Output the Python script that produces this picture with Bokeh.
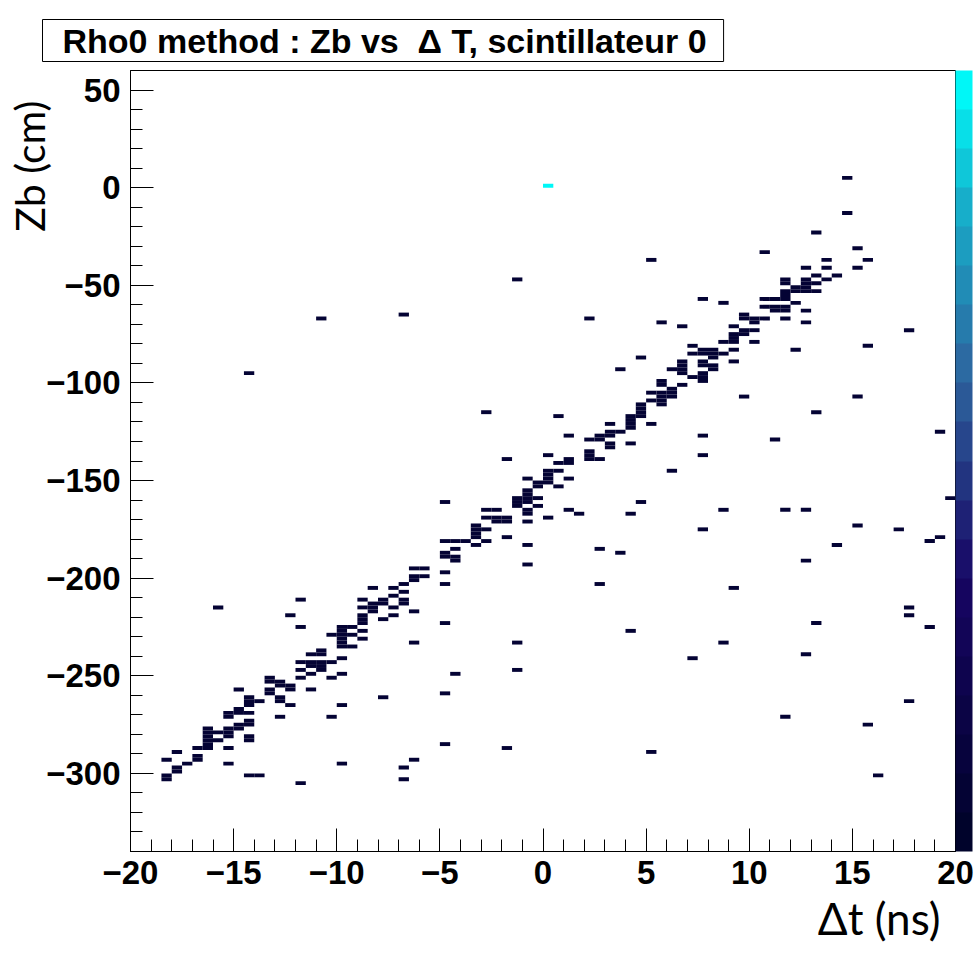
import numpy as np
from bokeh.plotting import figure
from bokeh.models import (ColumnDataSource, LinearColorMapper, ColorBar, Title,
                          FixedTicker, Range1d)
from bokeh.transform import transform
from bokeh.embed import file_html
from bokeh.resources import INLINE

# ---------------- data (bin centres of filled bins, bins 0.5 ns x 2 cm) ----------------
# hottest bin
hot_dt = [0.25]
hot_zb = [1]
hot_count = [20]

# bins with a single entry
dt_ns = [
    14.75, 14.75, 13.25, 15.25, 10.75, 13.75, 15.75, 5.25, 12.75,
    13.75, 15.25, 13.25, 14.25, 13.75, 11.75, 12.75, -1.25, 11.75, 12.75,
    13.25, 12.25, 12.75, 11.75, 12.25, 12.75, 13.25, 11.75, 7.75, 10.75,
    11.25, 11.75, 8.75, 12.25, 10.75, 11.25, 11.75, 11.25, 11.75, 12.75,
    9.75, -6.75, 9.75, 10.25, 10.75, 11.75, 2.25, -10.75, 10.25, 12.75,
    5.75, 6.75, 9.25, 9.75, 10.25, 17.75, 9.25, 9.75, 9.25, 8.75,
    9.25, 10.25, 7.25, 15.75, 7.75, 8.25, 9.25, 12.25, 7.25, 7.75,
    8.25, 8.75, 4.75, 8.25, 6.75, 7.75, 9.25, 6.75, 7.75, 8.25,
    3.75, 6.25, 6.75, 8.25, -14.25, 6.75, 7.75, 7.25, 7.75, 5.75,
    7.75, 5.75, 6.75, 6.25, 5.25, 5.75, 6.25, 5.75, 6.25, 9.75,
    15.25, 5.25, 5.75, 4.75, 5.75, 4.75, 4.75, -2.75, 13.25, 0.75,
    4.25, 4.75, 4.25, 3.25, 4.25, 5.25, 4.25, 3.25, 3.75, 19.25,
    1.25, 2.75, 3.25, 7.75, 2.25, 2.75, 11.25, 3.25, 4.25, 3.25,
    2.25, 0.25, 2.25, 7.75, -1.75, 1.25, 2.25, 2.75, 0.75, 1.25,
    0.25, 0.75, 6.25, 0.25, -0.75, 0.25, 1.25, -0.25, 0.25, -0.25,
    0.75, -0.75, -0.75, -1.25, -0.75, -0.25, 19.75, -4.75, -1.25, -0.75,
    4.75, -1.25, -0.25, -2.75, -2.25, -0.75, 1.25, 8.75, 11.75, 12.75,
    -0.75, 1.75, 4.25, -2.75, -2.25, -1.75, 0.25, -2.25, -1.75, -0.75,
    -3.25, 15.25, -3.25, -2.75, 7.75, 17.25, -3.25, -3.25, -1.75, 19.25,
    -4.75, -4.25, -3.75, -2.75, 18.75, -3.25, -0.75, 14.25, -4.25, 2.75,
    -4.75, 3.75, -4.75, -4.25, -4.25, 12.75, -0.75, -6.25, -5.75, -4.75,
    -6.25, -5.75, -6.25, -6.75, -4.75, 2.75, -8.25, -7.25, 9.25, -6.75,
    -7.25, -11.75, -8.75, -7.75, -6.75, -8.25, -7.75, -6.75, -15.75, -8.75,
    -8.25, -7.25, 17.75, -8.25, -6.25, -12.25, -8.75, -7.25, 17.75, -8.75,
    -7.75, -8.75, -4.75, 13.25, -11.75, -9.75, -9.25, 18.75, -9.75, -8.75,
    4.25, -10.25, -9.75, -9.25, -9.75, -8.75, -9.75, -6.25, -1.25, 8.75,
    -9.75, -9.25, -10.75, -11.25, -10.75, 12.75, -9.75, 7.25, -11.75, -11.25,
    -10.75, -10.25, -11.25, -10.75, -11.75, -10.75, -1.25, -11.25, -9.75, -4.25,
    -13.25, -11.75, -10.25, -13.25, -12.75, -12.75, -12.25, -14.75, -13.25, -12.25,
    -11.25, -13.25, -4.75, -14.25, -12.75, -7.75, -14.25, -13.75, -12.75, 17.75,
    -14.25, -12.25, -9.75, -14.75, -15.25, -14.75, -14.25, -15.25, -12.75, -10.25,
    11.75, -14.25, -14.75, -14.25, 15.75, -16.25, -15.25, -14.75, -16.25, -15.75,
    -15.25, -16.25, -15.25, -14.25, -16.25, -15.75, -14.25, -16.25, -4.75, -16.75,
    -16.25, -15.25, -1.75, -17.75, 5.25, -16.75, -18.25, -16.75, -6.25, -17.25,
    -15.25, -9.75, -17.75, -6.75, -17.75, -18.25, -14.25, -13.75, 16.25, -18.25,
    -6.75, -11.75,
]
zb_cm = [
    5, -13, -23, -31, -33, -37, -37, -37, -41,
    -41, -41, -45, -45, -47, -47, -47, -47, -49, -49,
    -49, -51, -51, -53, -53, -53, -53, -55, -57, -57,
    -57, -57, -59, -59, -61, -61, -61, -63, -63, -63,
    -65, -65, -67, -67, -67, -67, -67, -67, -69, -69,
    -69, -71, -71, -73, -73, -73, -75, -75, -77, -79,
    -79, -79, -81, -81, -83, -83, -83, -83, -85, -85,
    -85, -85, -87, -87, -89, -89, -89, -91, -91, -91,
    -93, -93, -93, -93, -95, -95, -95, -97, -97, -99,
    -99, -101, -101, -103, -105, -105, -105, -107, -107, -107,
    -107, -109, -109, -111, -111, -113, -115, -115, -115, -117,
    -117, -117, -119, -121, -121, -121, -123, -125, -125, -125,
    -127, -127, -127, -127, -129, -129, -129, -131, -131, -133,
    -135, -137, -137, -137, -139, -139, -139, -139, -141, -141,
    -145, -145, -145, -147, -149, -149, -149, -151, -151, -153,
    -153, -155, -157, -159, -159, -159, -159, -161, -161, -161,
    -161, -163, -163, -165, -165, -165, -165, -165, -165, -165,
    -167, -167, -167, -169, -169, -169, -169, -171, -171, -171,
    -173, -173, -175, -175, -175, -175, -177, -179, -179, -179,
    -181, -181, -181, -181, -181, -183, -183, -183, -185, -185,
    -187, -187, -189, -189, -191, -191, -193, -195, -195, -197,
    -199, -199, -201, -203, -203, -203, -205, -205, -205, -207,
    -209, -211, -211, -211, -211, -213, -213, -213, -215, -215,
    -215, -215, -215, -217, -217, -219, -219, -219, -219, -221,
    -221, -223, -223, -223, -225, -225, -225, -225, -227, -227,
    -227, -229, -229, -229, -231, -231, -233, -233, -233, -233,
    -235, -235, -237, -239, -239, -239, -241, -241, -243, -243,
    -243, -243, -245, -245, -247, -247, -247, -249, -249, -249,
    -251, -251, -251, -253, -253, -255, -255, -257, -257, -257,
    -257, -259, -259, -261, -261, -261, -263, -263, -263, -263,
    -265, -265, -265, -267, -269, -269, -269, -271, -271, -271,
    -271, -273, -275, -275, -275, -277, -277, -277, -279, -279,
    -279, -281, -281, -281, -283, -283, -283, -285, -285, -287,
    -287, -287, -287, -289, -289, -291, -293, -293, -293, -295,
    -295, -295, -297, -297, -299, -301, -301, -301, -301, -303,
    -303, -305,
]
single_count = 1

x_ticks = [-20, -15, -10, -5, 0, 5, 10, 15, 20]
x_tick_labels = ["\u221220", "\u221215", "\u221210", "\u22125", "0", "5", "10", "15", "20"]
y_ticks = [-300, -250, -200, -150, -100, -50, 0, 50]
y_tick_labels = ["\u2212300", "\u2212250", "\u2212200", "\u2212150", "\u2212100", "\u221250", "0", "50"]
x_minor = list(range(-20, 21, 1))
y_minor = list(range(-340, 61, 10))

title_text = "Rho0 method : Zb vs\u00a0 \u0394 T, scintillateur 0"
x_title = "\u0394t (ns)"
y_title = "Zb (cm)"

# ---------------- palette (ROOT "deep sea", 20 contour levels) ----------------
stops = [0.00, 0.34, 0.61, 0.84, 1.00]
reds = [0.00, 0.09, 0.18, 0.09, 0.00]
greens = [0.01, 0.02, 0.39, 0.68, 0.97]
blues = [0.17, 0.39, 0.62, 0.79, 0.97]
n_levels = 20
ts = np.linspace(0, 1, n_levels)
palette = ["#%02x%02x%02x" % (int(round(255 * np.interp(t, stops, reds))),
                               int(round(255 * np.interp(t, stops, greens))),
                               int(round(255 * np.interp(t, stops, blues)))) for t in ts]
mapper = LinearColorMapper(palette=palette, low=0, high=hot_count[0])

# ---------------- figure ----------------
p = figure(width=976, height=957, x_range=Range1d(-20, 20), y_range=Range1d(-340, 60),
           output_backend="svg", toolbar_location=None,
           min_border_left=130, min_border_right=21, min_border_top=70, min_border_bottom=106)
p.grid.visible = False
p.outline_line_color = "black"
p.outline_line_width = 1
p.background_fill_color = "white"
p.border_fill_color = "white"

src = ColumnDataSource(dict(dt=list(dt_ns) + hot_dt,
                            zb=list(zb_cm) + hot_zb,
                            n=[single_count] * len(dt_ns) + hot_count))
p.rect(x="dt", y="zb", width=0.5, height=2, source=src,
       fill_color=transform("n", mapper), line_color=None)

p.xaxis.ticker = FixedTicker(ticks=x_ticks, minor_ticks=x_minor)
p.yaxis.ticker = FixedTicker(ticks=y_ticks, minor_ticks=y_minor)
p.xaxis.major_label_overrides = {t: l for t, l in zip(x_ticks, x_tick_labels)}
p.yaxis.major_label_overrides = {t: l for t, l in zip(y_ticks, y_tick_labels)}
for ax in (p.xaxis[0], p.yaxis[0]):
    ax.major_tick_in = 23
    ax.major_tick_out = 0
    ax.minor_tick_in = 12
    ax.minor_tick_out = 0
    ax.major_tick_line_color = "black"
    ax.minor_tick_line_color = "black"
    ax.axis_line_color = "black"
    ax.major_label_text_font = "Liberation Sans"
    ax.major_label_text_font_style = "bold"
    ax.major_label_text_font_size = "33px"
    ax.major_label_text_color = "black"
p.xaxis.major_label_standoff = 9
p.yaxis.major_label_standoff = 10

cb = ColorBar(color_mapper=mapper, width=17, padding=0, margin=0,
              ticker=FixedTicker(ticks=[]), major_label_text_font_size="0px",
              major_tick_line_color=None, minor_tick_line_color=None,
              bar_line_color=None, border_line_color=None,
              background_fill_alpha=0, label_standoff=0, title=None)
p.add_layout(cb, "right")

# main title (boxed, ROOT style)
p.title.text = title_text
p.title.align = "left"
p.title.offset = -88
p.title.standoff = 18
p.title.text_font = "Liberation Sans"
p.title.text_font_style = "bold"
p.title.text_font_size = "34px"
p.title.text_color = "black"
p.title.border_line_color = "black"
p.title.border_line_width = 1
p.title.background_fill_color = "white"
p.title.padding = dict(left=20, right=17, top=2, bottom=2)

# axis titles
p.add_layout(Title(text=y_title, align="right", offset=30, standoff=-20,
                   text_font="Lato", text_font_size="41px", text_font_style="normal",
                   text_color="black"), "left")
p.add_layout(Title(text=x_title, align="right", offset=15, standoff=7,
                   text_font="Lato", text_font_size="44px", text_font_style="normal",
                   text_color="black"), "below")

open("out.html", "w").write(file_html(p, INLINE))
